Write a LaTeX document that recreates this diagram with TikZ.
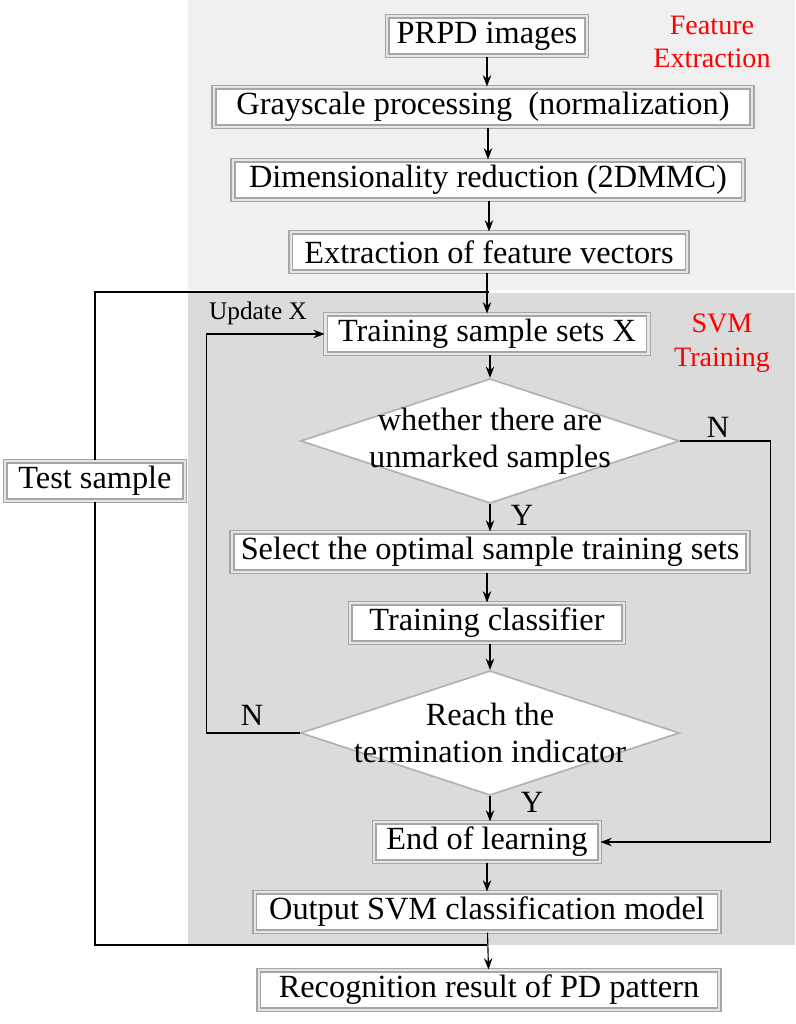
\documentclass[tikz,border=0pt]{standalone}
\usepackage{fontspec}
\setmainfont{Liberation Serif}
\usetikzlibrary{shapes.geometric,arrows.meta}
\tikzset{
  box/.style={draw=gray!70, fill=white, line width=1.2pt, double=gray!20, double distance=1.5pt,
    font=\fontsize{23}{26}\selectfont, inner sep=1pt, minimum height=28pt},
  w/.style={minimum width=#1*0.709pt},
  dia/.style={diamond, draw=gray!60, fill=white, line width=1.2pt, inner sep=0pt,
    minimum width=380*0.709pt, minimum height=125*0.709pt},
  dia text/.style={font=\fontsize{23}{26}\selectfont, align=center},
  arr/.style={-{Stealth[length=8pt,width=6pt]}, line width=0.8pt},
  lin/.style={line width=0.8pt},
  lbl/.style={font=\fontsize{22}{25}\selectfont},
  red lbl/.style={text=red, font=\fontsize{20}{24}\selectfont, align=center}
}
\begin{document}
\begin{tikzpicture}[x=0.025cm, y=-0.025cm]
 \useasboundingbox (0,0) rectangle (795,1024);
 % backgrounds
 \fill[gray!12] (188,0) rectangle (795,290);
 \fill[gray!28] (188,293) rectangle (795,945);
 % boxes
 \node (prpd) [box, w=200] at (487,36) {PRPD images};
 \node (gray) [box, w=540] at (483,107) {Grayscale processing \ (normalization)};
 \node (dim) [box, w=512] at (488,180) {Dimensionality reduction (2DMMC)};
 \node (ext) [box, w=398] at (489,252) {Extraction of feature vectors};
 \node (train) [box, w=324] at (487,334) {Training sample sets X};
 \node (d1) [dia] at (490,441) {};
 \node (d1t) [dia text] at (d1) {whether there are\\unmarked samples};
 \node (sel) [box, w=518] at (490,552) {Select the optimal sample training sets};
 \node (cls) [box, w=274] at (487,623) {Training classifier};
 \node (d2) [dia] at (490,733) {};
 \node (d2t) [dia text] at (d2) {Reach the\\termination indicator};
 \node (end) [box, w=226] at (487,842) {End of learning};
 \node (out) [box, w=466] at (487,912) {Output SVM classification model};
 \node (rec) [box, w=462] at (489,990) {Recognition result of PD pattern};
 \node (test) [box, w=180] at (95,481) {Test sample};
 \coordinate (j1) at (489,292);
 \coordinate (j2) at (487,945);
 % labels
 \node (fe) [red lbl] at (712,42) {Feature\\Extraction};
 \node (svm) [red lbl] at (722,343) {SVM\\Training};
 \node (upd) [lbl, font=\fontsize{18}{21}\selectfont] at (258,313) {Update X};
 \node (n1) [lbl] at (718,427) {N};
 \node (n2) [lbl] at (252,715) {N};
 \node (y1) [lbl] at (522,515) {Y};
 \node (y2) [lbl] at (532,802) {Y};
 % connectors
 \draw[arr] (prpd) -- (prpd |- gray.north);
 \draw[arr] (gray.south -| dim) -- (dim);
 \draw[arr] (dim.south -| ext) -- (ext);
 \draw[arr] (ext.south -| train) -- (train);
 \draw[lin] (j1) -| (test.north);
 \draw[arr] (train.south -| d1) -- (d1.north);
 \draw[arr] (d1.south) -- (d1 |- sel.north);
 \draw[arr] (sel.south -| cls) -- (cls);
 \draw[arr] (cls.south -| d2) -- (d2.north);
 \draw[arr] (d2.south) -- (d2 |- end.north);
 \draw[arr] (end) -- (out);
 \draw[arr] (out) -- (rec);
 \draw[arr] (d1.east) -- ++(90,0) |- (end.east);
 \draw[arr] (d2.west) -- ++(-93,0) |- (train.west);
 \draw[lin] (test.south) |- (j2);
\end{tikzpicture}
\end{document}
